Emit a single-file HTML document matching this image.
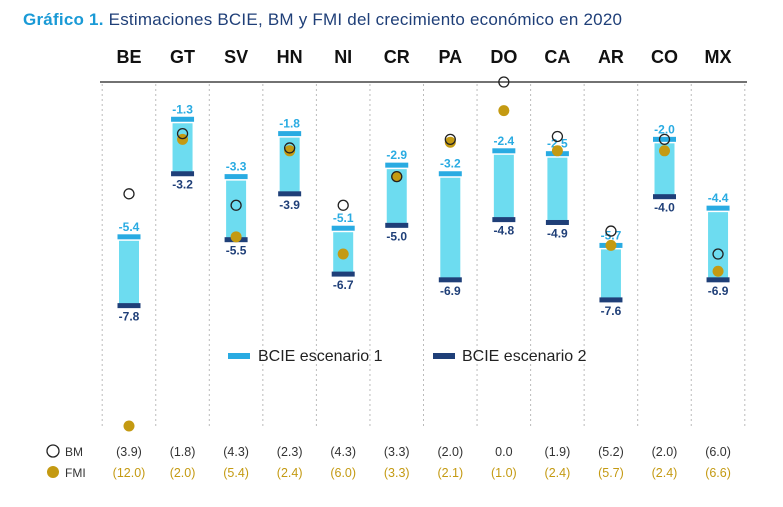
<!DOCTYPE html>
<html><head><meta charset="utf-8"><style>
body{margin:0;background:#fff;font-family:"Liberation Sans",sans-serif}
#wrap{position:relative;width:783px;height:507px;overflow:hidden}
</style></head><body>
<div id="wrap">
<svg id="chart" width="783" height="507" xmlns="http://www.w3.org/2000/svg">
<text x="23" y="25" font-size="17" textLength="599" lengthAdjust="spacing"><tspan fill="#1a9ad6" font-weight="bold">Gráfico 1.</tspan><tspan fill="#1f3f78"> Estimaciones BCIE, BM y FMI del crecimiento económico en 2020</tspan></text>
<line x1="100" y1="82" x2="747" y2="82" stroke="#444" stroke-width="1.5"/>
<g id="grid"></g><g id="bars"></g><g id="dots"></g><g id="table"></g>
<g>
<rect x="228" y="353" width="22" height="6" fill="#29abe2"/>
<text x="258" y="361" font-size="16" fill="#222">BCIE escenario 1</text>
<rect x="433" y="353" width="22" height="6" fill="#1f3f78"/>
<text x="462" y="361" font-size="16" fill="#222">BCIE escenario 2</text>
</g>
<circle cx="53" cy="451" r="6" fill="#fff" stroke="#222" stroke-width="1.3"/>
<text x="65" y="456" font-size="12" fill="#333">BM</text>
<circle cx="53" cy="472" r="6" fill="#c49a12"/>
<text x="65" y="477" font-size="12" fill="#333">FMI</text>
</svg>
</div>
<script>
const categories=["BE","GT","SV","HN","NI","CR","PA","DO","CA","AR","CO","MX"];
const scenario1=[-5.4,-1.3,-3.3,-1.8,-5.1,-2.9,-3.2,-2.4,-2.5,-5.7,-2.0,-4.4];
const scenario2=[-7.8,-3.2,-5.5,-3.9,-6.7,-5.0,-6.9,-4.8,-4.9,-7.6,-4.0,-6.9];
const bmValues=[-3.9,-1.8,-4.3,-2.3,-4.3,-3.3,-2.0,0.0,-1.9,-5.2,-2.0,-6.0];
const fmiValues=[-12.0,-2.0,-5.4,-2.4,-6.0,-3.3,-2.1,-1.0,-2.4,-5.7,-2.4,-6.6];
const NS="http://www.w3.org/2000/svg";
function y(v){return 82-v*28.67;}
function x(i){return 129+i*53.55;}
function mk(tag,attrs,parent,txt){const e=document.createElementNS(NS,tag);for(const k in attrs)e.setAttribute(k,attrs[k]);if(txt!==undefined)e.textContent=txt;document.getElementById(parent).appendChild(e);return e;}
function fmt(v){return v.toFixed(1);}
function paren(v){return v===0?"0.0":"("+Math.abs(v).toFixed(1)+")";}
for(let i=0;i<=categories.length;i++){
  const gx=x(i)-26.8;
  const l=mk('line',{x1:gx,y1:84,x2:gx,y2:428,stroke:"#bbb","stroke-dasharray":"2,3","stroke-width":1},'grid');
  
  
}
categories.forEach((c,i)=>{
  const cx=x(i);
  const h=mk('text',{x:cx,y:63,"font-size":18,"font-weight":"bold","text-anchor":"middle",fill:"#111"},'grid',c);
  
  
  const t=y(scenario1[i]),b=y(scenario2[i]);
  const f=mk('rect',{x:cx-10,y:t+4,width:20,height:Math.max(0,b-t-6),fill:"#6ddcf0"},'bars');
  
  
  const tc=mk('rect',{x:cx-11.5,y:t-2.5,width:23,height:5,fill:"#29abe2"},'bars');
  
  
  const bc=mk('rect',{x:cx-11.5,y:b-2.5,width:23,height:5,fill:"#1f3f78"},'bars');
  
  
  const tl=mk('text',{x:cx,y:t-6,"font-size":12,"font-weight":"bold","text-anchor":"middle",fill:"#29abe2"},'bars',fmt(scenario1[i]));
  
  
  const bl=mk('text',{x:cx,y:b+15,"font-size":12,"font-weight":"bold","text-anchor":"middle",fill:"#1f3f78"},'bars',fmt(scenario2[i]));
  
  
  const fd=mk('circle',{cx:cx,cy:y(fmiValues[i]),r:5.5,fill:"#c49a12"},'dots');
  
  
  const bd=mk('circle',{cx:cx,cy:y(bmValues[i]),r:5,fill:"none",stroke:"#222","stroke-width":1.3},'dots');
  
  
  const bt=mk('text',{x:cx,y:456,"font-size":12.5,"text-anchor":"middle",fill:"#333"},'table',paren(bmValues[i]));
  
  
  const ft=mk('text',{x:cx,y:477,"font-size":12.5,"text-anchor":"middle",fill:"#c49a12"},'table',paren(fmiValues[i]));
  
  
});
</script>
</body></html>
